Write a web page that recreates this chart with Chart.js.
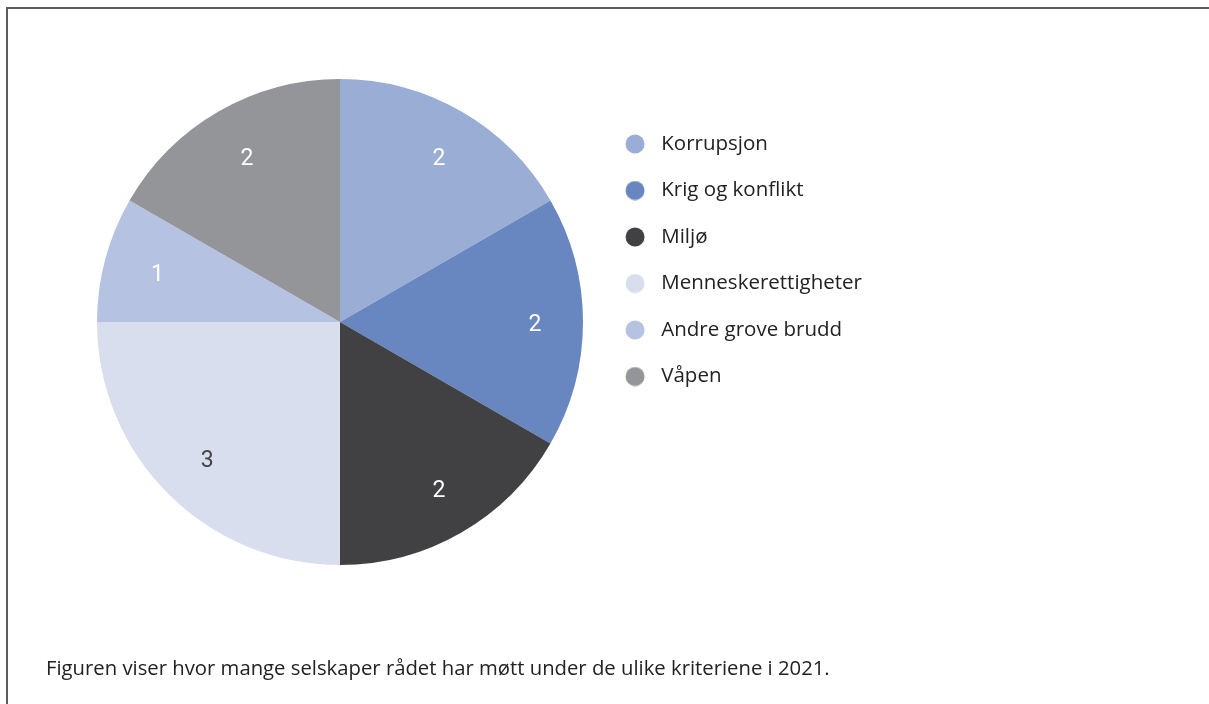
<!DOCTYPE html>
<html>
<head>
<meta charset="utf-8">
<script src="https://cdn.jsdelivr.net/npm/chart.js@4.4.1/dist/chart.umd.min.js"></script>
<style>
  html, body { margin: 0; padding: 0; background: #fff; width: 1209px; height: 704px; overflow: hidden; }
  #frame { position: absolute; left: 6px; top: 7px; width: 1220px; height: 720px;
           border-left: 2px solid #5c5c5c; border-top: 2px solid #5c5c5c; }
  #wrap { position: absolute; left: 0; top: 0; width: 1209px; height: 704px; }
  #caption { position: absolute; left: 46px; top: 652px; margin: 0; line-height: 30px;
             font-family: "Open Sans", sans-serif; font-size: 20.3px; color: #222; white-space: nowrap; }
</style>
</head>
<body>
<div id="frame"></div>
<div id="wrap"><canvas id="c" width="1209" height="704"></canvas></div>
<p id="caption">Figuren viser hvor mange selskaper rådet har møtt under de ulike kriteriene i 2021.</p>
<script>
const categories = ["Korrupsjon", "Krig og konflikt", "Miljø", "Menneskerettigheter", "Andre grove brudd", "Våpen"];
const values = [2, 2, 2, 3, 1, 2];
const colors = ["#9aadd5", "#6886c0", "#414143", "#d9deee", "#b6c2e2", "#939598"];
const labelColors = ["#ffffff", "#ffffff", "#ffffff", "#444444", "#ffffff", "#ffffff"];

function dotImage(color) {
  const cv = document.createElement('canvas');
  cv.width = 42; cv.height = 20;
  const g = cv.getContext('2d');
  g.fillStyle = color;
  g.beginPath();
  g.arc(26, 10, 9.5, 0, Math.PI * 2);
  g.fill();
  return cv;
}

const sliceLabels = {
  id: 'sliceLabels',
  afterDatasetsDraw(chart) {
    const ctx = chart.ctx;
    const meta = chart.getDatasetMeta(0);
    ctx.save();
    ctx.font = '23px Roboto, "Liberation Sans", sans-serif';
    ctx.textAlign = 'center';
    ctx.textBaseline = 'alphabetic';
    meta.data.forEach((arc, i) => {
      const p = arc.getProps(['x', 'y', 'startAngle', 'endAngle', 'outerRadius'], true);
      const a = (p.startAngle + p.endAngle) / 2;
      const r = p.outerRadius * 0.79;
      ctx.fillStyle = labelColors[i];
      ctx.fillText(String(values[i]), p.x + 3 + Math.cos(a) * r, p.y + 9 + Math.sin(a) * r);
    });
    ctx.restore();
  }
};

new Chart(document.getElementById('c'), {
  type: 'pie',
  data: {
    labels: categories,
    datasets: [{ data: values, backgroundColor: colors, borderWidth: 0 }]
  },
  options: {
    responsive: false,
    animation: false,
    layout: { padding: { top: 79, bottom: 139, left: 97, right: 337 } },
    plugins: {
      tooltip: { enabled: false },
      legend: {
        position: 'right',
        align: 'start',
        title: { display: true, text: '', font: { size: 10, lineHeight: 1 }, padding: { top: 18.75, bottom: 0 } },
        labels: {
          usePointStyle: true,
          pointStyleWidth: 42,
          padding: 26,
          color: '#222',
          font: { family: '"Open Sans", sans-serif', size: 20.5 },
          generateLabels(chart) {
            return categories.map((t, i) => ({
              text: t,
              fillStyle: colors[i],
              strokeStyle: colors[i],
              lineWidth: 0,
              pointStyle: dotImage(colors[i]),
              fontColor: '#222',
              hidden: false,
              index: i
            }));
          }
        }
      }
    }
  },
  plugins: [sliceLabels]
});
</script>
</body>
</html>
